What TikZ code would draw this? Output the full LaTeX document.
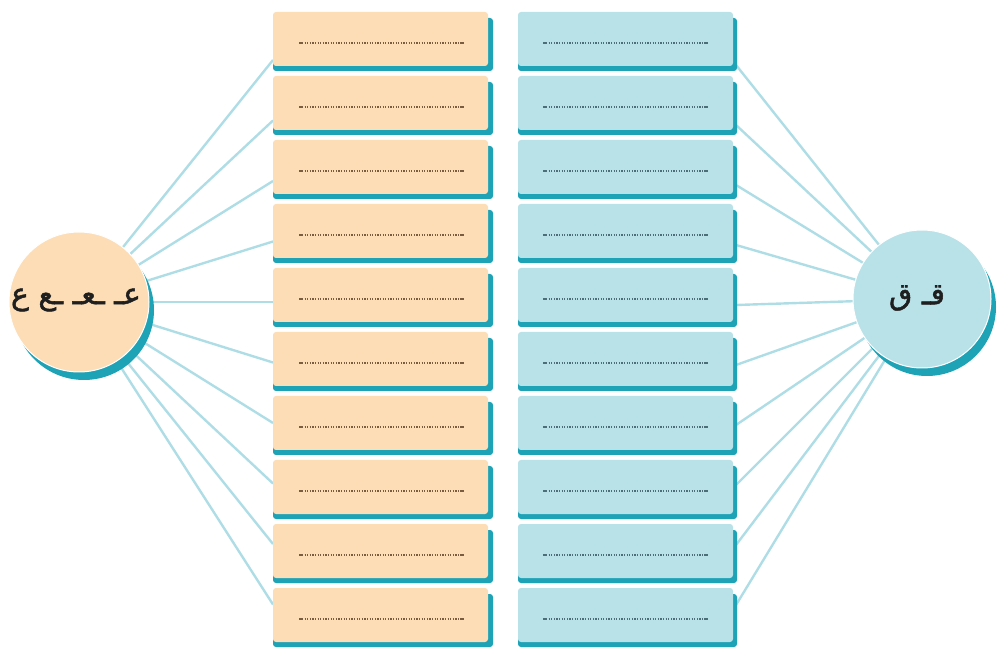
\documentclass[tikz,border=0pt]{standalone}
\usepackage{fontspec}
\newfontfamily\arabicfont[Script=Arabic,FakeBold=1.6]{DejaVu Sans}
\TeXXeTstate=1
\definecolor{peach}{HTML}{FCDDB6}
\definecolor{pale}{HTML}{B9E1E8}
\definecolor{tealsh}{HTML}{1EA2B6}
\definecolor{linec}{HTML}{AFDDE6}
\definecolor{dotl}{HTML}{7A5C3E}
\definecolor{dotr}{HTML}{4D6E78}
\tikzset{
  lbox/.style={fill=peach, rounded corners=3pt, minimum width=215pt, minimum height=54pt, inner sep=0pt},
  rbox/.style={fill=pale, rounded corners=3pt, minimum width=215pt, minimum height=54pt, inner sep=0pt},
  shadowbar/.style={fill=tealsh, rounded corners=3pt},
  ray/.style={draw=linec, line width=2.4pt},
  dotline/.style={line width=1.1pt, dash pattern=on 1.2pt off 1.4pt},
  endsq/.style={line width=1.6pt},
  bigcirc/.style={circle, minimum size=140pt, inner sep=0pt, draw=white, line width=1pt},
  artext/.style={font=\arabicfont\fontsize{30}{34}\selectfont, text=black!88}
}
\begin{document}
\begin{tikzpicture}[x=1pt,y=-1pt]
\useasboundingbox (0,0) rectangle (997,652);
% anchor coordinates
\coordinate (lcc) at (79,302);
\coordinate (rcc) at (922,299);
% rays
\foreach \k [evaluate=\k as \ly using 60+60.5*\k, evaluate=\k as \ry using 65+60*\k] in {0,...,9}{
  \coordinate (LE\k) at (273,\ly);
  \coordinate (RE\k) at (736,\ry);
  \draw[ray] (lcc) -- (LE\k);
  \draw[ray] (rcc) -- (RE\k);
}
% boxes
\foreach \k [evaluate=\k as \t using 12+64*\k] in {0,...,9}{
  \fill[shadowbar] (273,\t+6) rectangle (493,\t+59);
  \node[lbox] (L\k) at (380.5,\t+27) {};
  \draw[dotl, dotline] (302,\t+31) -- (461,\t+31);
  \draw[dotl, endsq] (299,\t+31) -- (303,\t+31) (460,\t+31) -- (464,\t+31);
  \fill[shadowbar] (518,\t+6) rectangle (737,\t+59);
  \node[rbox] (R\k) at (625.5,\t+27) {};
  \draw[dotr, dotline] (546,\t+31) -- (705,\t+31);
  \draw[dotr, endsq] (543,\t+31) -- (547,\t+31) (704,\t+31) -- (708,\t+31);
}
% circles
\fill[tealsh] (84,310) circle (70);
\node[bigcirc, fill=peach] (lc) at (lcc) {};
\node[artext] (lt) at (76,300) {\beginR عـ ـعـ ـع ع\endR};
\fill[tealsh] (927,307) circle (69);
\node[bigcirc, fill=pale, minimum size=138pt] (rc) at (rcc) {};
\node[artext] (rt) at (917,298) {\beginR قـ ق\endR};
\end{tikzpicture}
\end{document}
